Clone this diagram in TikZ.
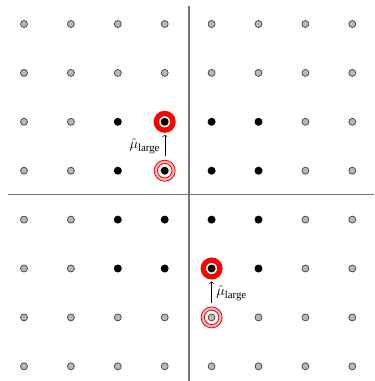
\documentclass[tikz,border=0pt]{standalone}
\usepackage{amsmath}
\usepackage{fontspec}
\setmainfont{Liberation Serif}
\usepackage{tikz}
\usetikzlibrary{arrows.meta,backgrounds}
\usepackage{xcolor}
\definecolor{ringpink}{RGB}{246,184,184}

\begin{document}
\begin{tikzpicture}[x=1pt,y=-1pt,
  graydot/.style={circle,draw=black!75,fill=black!28,line width=0.7pt,inner sep=0pt,minimum size=7pt},
  blackdot/.style={circle,fill=black,inner sep=0pt,minimum size=8pt},
  bigring/.style={circle,draw=red,line width=5.3pt,fill=white,inner sep=0pt,minimum size=16.7pt},
  pinkring/.style={circle,draw=red,line width=0.8pt,fill=ringpink,inner sep=0pt,minimum size=21pt},
  pinkcore/.style={circle,draw=red,line width=0.8pt,fill=white,inner sep=0pt,minimum size=14.5pt},
  axisline/.style={black!55,line width=1.1pt},
  steplabel/.style={font=\fontsize{15.5}{17}\selectfont,inner sep=4.5pt}]
\useasboundingbox (0,0) rectangle (375,381);
% lattice points, the central 4x4 block in black
\foreach \i in {1,...,8}
  \foreach \j in {1,...,8} {
    \pgfmathsetmacro\px{24+(\i-1)*46.9}
    \pgfmathsetmacro\py{24+(\j-1)*48.9}
    \pgfmathtruncatemacro\inblock{(\i>2)*(\i<7)*(\j>2)*(\j<7)}
    \ifnum\inblock=1 \def\dotstyle{blackdot}\else\def\dotstyle{graydot}\fi
    \node[\dotstyle] (p-\i-\j) at (\px,\py) {};
  }
\begin{scope}[on background layer]
\draw[axisline] (189,6) -- (189,381);
\draw[axisline] (8,194.5) -- (374,194.5);
\node[pinkring] (pk1) at (p-4-4) {};
\node[pinkcore] at (p-4-4) {};
\node[bigring] (r1) at (p-4-3) {};
\node[pinkring] (pk2) at (p-5-7) {};
\node[pinkcore] at (p-5-7) {};
\node[bigring] (r2) at (p-5-6) {};
\end{scope}
\draw[->,shorten <=4pt,shorten >=2pt] (pk1) -- node[steplabel,left] {$\hat{\mu}_{\text{\upshape large}}$} (r1);
\draw[->,shorten <=4pt,shorten >=2pt] (pk2) -- node[steplabel,right] {$\hat{\mu}_{\text{\upshape large}}$} (r2);
\end{tikzpicture}
\end{document}
